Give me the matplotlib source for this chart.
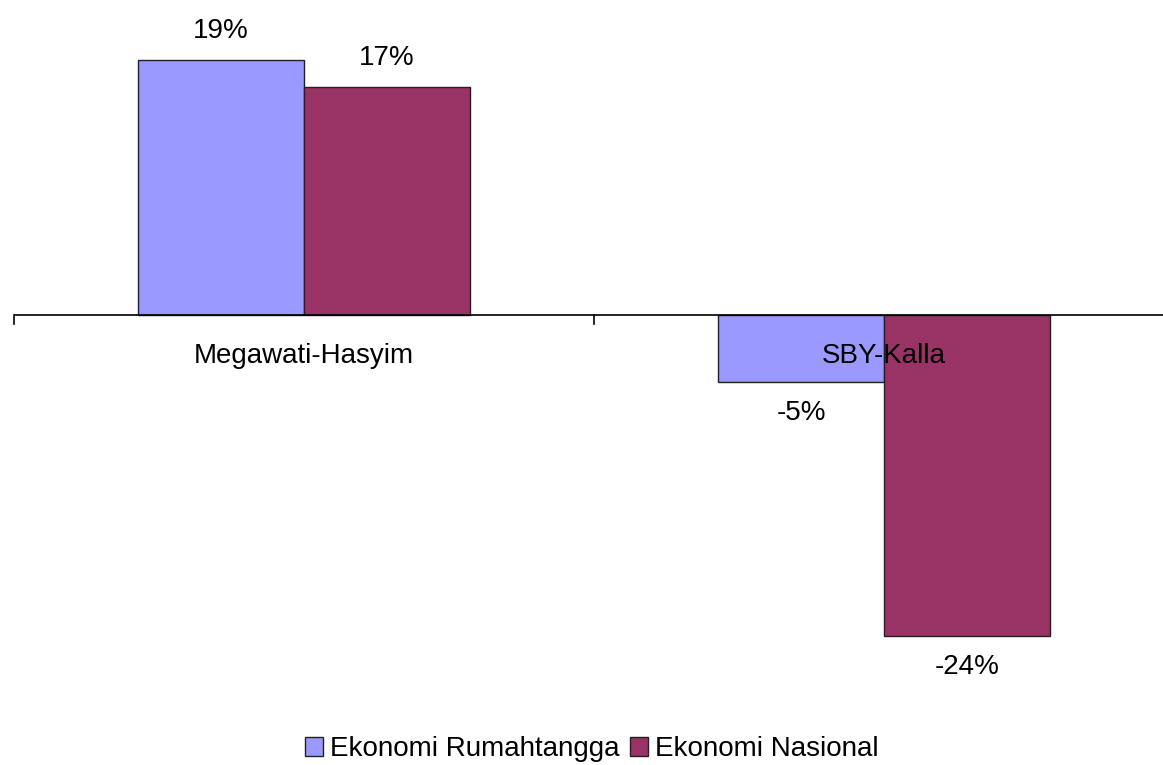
import matplotlib.pyplot as plt
import matplotlib.patches as mpatches
import numpy as np

plt.rcParams['font.family'] = ['Liberation Sans', 'DejaVu Sans']

categories = ["Megawati-Hasyim", "SBY-Kalla"]
series_names = ["Ekonomi Rumahtangga", "Ekonomi Nasional"]
rumahtangga = [19, -5]
nasional = [17, -24]
colors = ["#9999FF", "#993366"]

fig = plt.figure(figsize=(11.63, 7.65), dpi=100)
ax = fig.add_axes([14/1163, 75/765, 1160/1163, 670/765])

x = np.arange(len(categories))
w = 0.286
vals = [rumahtangga, nasional]
for i, (v, c) in enumerate(zip(vals, colors)):
    pos = x + (i - 0.5) * w
    ax.bar(pos, v, width=w, color=c, edgecolor="#222222", linewidth=1.0, zorder=2)
    for p, val in zip(pos, v):
        off = 29 if val > 0 else -31
        ax.annotate(f"{val}%", (p, val), xytext=(0, off), textcoords="offset pixels",
                    ha="center", va="center", fontsize=20)

ax.set_xlim(-0.5, len(categories) - 0.5)
ax.set_ylim(-28, 22)
ax.axhline(0, color="black", linewidth=1.2, zorder=3)
for t in np.arange(len(categories) + 1) - 0.5:
    ax.plot([t, t], [0, -0.7], color="black", linewidth=1.2, clip_on=False, zorder=3)
for xi, lab in zip(x, categories):
    ax.annotate(lab, (xi, 0), xytext=(0, -41), textcoords="offset pixels",
                ha="center", va="center", fontsize=20, zorder=5)

ax.axis("off")

handles = [mpatches.Patch(facecolor=c, edgecolor="#222222", label=n) for c, n in zip(colors, series_names)]
fig.legend(handles=handles, loc="center", bbox_to_anchor=(592/1163, 1 - 749/765), ncol=2,
           frameon=False, fontsize=20, handlelength=0.65, handleheight=0.65,
           handletextpad=0.25, columnspacing=0.36, borderpad=0)

fig.savefig("out.png", dpi=100)
